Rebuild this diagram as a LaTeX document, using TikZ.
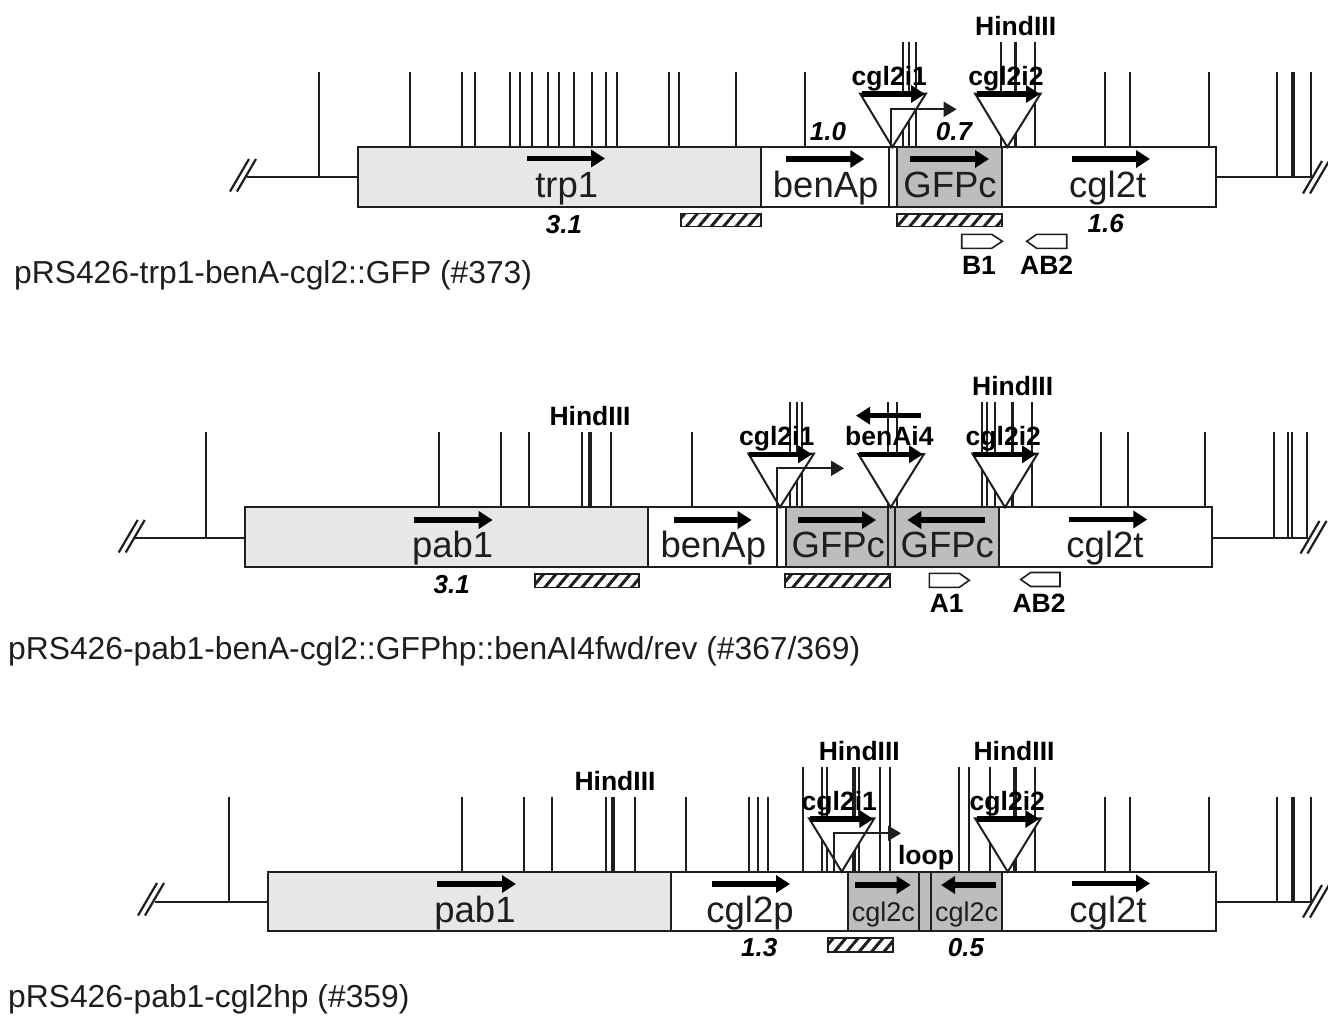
\documentclass[tikz,border=0pt]{standalone}
\usepackage{fontspec}
\setmainfont{Liberation Sans}
\usetikzlibrary{arrows.meta,patterns.meta}
\definecolor{ink}{HTML}{1E1E1E}
\definecolor{pale}{HTML}{E7E7E7}
\definecolor{mid}{HTML}{BDBDBD}
\tikzset{
  rule/.style={draw=ink,line width=1.8pt},
  heavy/.style={draw=ink,line width=3.4pt},
  seg/.style={draw=ink,line width=2pt},
  bigarrow/.style={draw=black,line width=5.2pt,-{Triangle[length=14pt,width=17pt]},shorten >=0pt},
  bent/.style={draw=ink,line width=2pt,-{Triangle[length=13pt,width=15pt]}},
  tri/.style={draw=ink,line width=2pt,fill=white,line join=miter},
  hatch/.style={draw=ink,line width=1.8pt,pattern={Lines[angle=50,distance=9.5pt,line width=3pt]},pattern color=ink},
  primer/.style={draw=ink,line width=1.6pt,fill=white},
  gene/.style={inner sep=0pt,anchor=base,text=ink,font=\fontsize{36.5}{40}\selectfont},
  small/.style={inner sep=0pt,anchor=base,text=ink,font=\fontsize{27}{30}\selectfont},
  tag/.style={inner sep=0pt,text=black,font=\fontsize{26.5}{30}\selectfont\bfseries},
  num/.style={inner sep=0pt,text=black,font=\fontsize{26}{30}\selectfont\bfseries\itshape},
  title/.style={inner sep=0pt,anchor=west,text=ink,font=\fontsize{31.8}{35}\selectfont},
}
\newcommand{\Ticks}[4][rule]{\foreach \t in {#4}{\draw[#1] (\t,#2) -- (\t,#3);}}
\newcommand{\Slash}[2]{%
  \draw[draw=ink,line width=2.2pt] (#1,#2+15.5) -- (#1+19,#2-17);
  \draw[draw=ink,line width=2.2pt] (#1+7,#2+15.5) -- (#1+26,#2-17);}
\begin{document}
\begin{tikzpicture}[x=1pt,y=-1pt]
\useasboundingbox (0,0) rectangle (1328,1015);

% ---------- row 1 ----------
\draw[seg] (247,177.3) -- (358,177.3);
\draw[seg] (1216,177.3) -- (1311,177.3);
\Slash{230}{176}
\Slash{1303}{178}
\Ticks{72}{177.3}{319,1276.7,1291.7,1294.3,1310.7}
\Ticks{72}{147}{410,462,474.7,510,519.7,531.7,548,559.3,573.7,591.7,606,617.3,669,679,736.3,805.3,1104.7,1130.3,1208.7}
\Ticks{41.5}{147}{902.7,909.3,915.7,1000.7,1035}
\Ticks[heavy]{41.5}{147}{1015.7}
\draw[seg,fill=pale] (358,147) rectangle (761,207);
\draw[seg,fill=white] (761,147) rectangle (1216,207);
\draw[seg] (889.3,147) -- (889.3,207);
\draw[seg,fill=mid] (897.3,147) rectangle (1001.7,207);
\draw[tri] (860,93.5) -- (926,93.5) -- (892.3,147) -- cycle;
\draw[tri] (975,93.5) -- (1040.7,93.5) -- (1007.3,147) -- cycle;
\draw[bent] (890.7,147) -- (890.7,109.3) -- (956.7,109.3);
\draw[bigarrow] (862,94) -- (925,94);
\draw[bigarrow] (977,94) -- (1040,94);
\draw[bigarrow] (527,158.5) -- (605,158.5);
\draw[bigarrow] (786,159) -- (864.3,159);
\draw[bigarrow] (910,159) -- (989,159);
\draw[bigarrow] (1071.7,159) -- (1150,159);
\draw[hatch] (681,213.5) rectangle (760.7,226.5);
\draw[hatch] (897.3,214) rectangle (1001.7,226.5);
\draw[primer] (961.7,234.3) -- (991.7,234.3) -- (1002.3,241.3) -- (991.7,248.3) -- (961.7,248.3) -- cycle;
\draw[primer] (1066.7,234.3) -- (1036.7,234.3) -- (1026.7,241.3) -- (1036.7,248.3) -- (1066.7,248.3) -- cycle;
\node[gene] (r1trp) at (566.7,197.5) {trp1};
\node[gene] (r1ben) at (825.7,197.5) {benAp};
\node[gene] (r1gfp) at (950,197.5) {GFPc};
\node[gene] (r1t) at (1107.7,197.5) {cgl2t};
\node[tag] (r1i1) at (889.3,79) {cgl2i1};
\node[tag] (r1i2) at (1006,79) {cgl2i2};
\node[tag] (r1h) at (1015.7,26) {HindIII};
\node[tag] (r1b1) at (979,265) {B1};
\node[tag] (r1ab2) at (1046.7,265) {AB2};
\node[num] (r1n1) at (828,131.7) {1.0};
\node[num] (r1n2) at (954,131.7) {0.7};
\node[num] (r1n3) at (564,225) {3.1};
\node[num] (r1n4) at (1105.7,224) {1.6};
\node[title] (r1title) at (14,275) {pRS426-trp1-benA-cgl2::GFP (\#373)};

% ---------- row 2 ----------
\draw[seg] (135,538.3) -- (245,538.3);
\draw[seg] (1212.3,538.3) -- (1308,538.3);
\Slash{118.7}{537}
\Slash{1300.5}{538}
\Ticks{432.3}{538.3}{206,1274.3,1288.3,1292.3,1307.3}
\Ticks{432.3}{507.3}{439.3,501,529,582.3,611.3,691.7,1101.3,1127.7,1205}
\Ticks[heavy]{432.3}{507.3}{590}
\Ticks{402.3}{507.3}{790,796.7,802.3,887.7,896.7,981.7,986.7,995,1031.7}
\Ticks[heavy]{402.3}{507.3}{1012.7}
\draw[seg,fill=pale] (245,507.3) rectangle (648.3,566.7);
\draw[seg,fill=white] (648.3,507.3) rectangle (1212.3,566.7);
\draw[seg] (777.3,507.3) -- (777.3,566.7);
\draw[seg,fill=mid] (785.7,507.3) rectangle (888.3,566.7);
\draw[seg,fill=mid] (888.3,507.3) rectangle (895,566.7);
\draw[seg,fill=mid] (895,507.3) rectangle (999,566.7);
\draw[tri] (748.3,453.5) -- (814,453.5) -- (780,507.3) -- cycle;
\draw[tri] (858.3,454) -- (924,454) -- (890.7,507.3) -- cycle;
\draw[tri] (972.3,453.5) -- (1037.7,453.5) -- (1005,507.3) -- cycle;
\draw[bent] (777.3,507.3) -- (777.3,468.3) -- (844,468.3);
\draw[bigarrow] (749,454.3) -- (812,454.3);
\draw[bigarrow] (859,454.3) -- (923,454.3);
\draw[bigarrow] (973,454.3) -- (1036,454.3);
\draw[bigarrow] (920.7,415.7) -- (856,415.7);
\draw[bigarrow] (414.3,520) -- (492.7,520);
\draw[bigarrow] (674,520) -- (751.7,520);
\draw[bigarrow] (798.3,520) -- (876,520);
\draw[bigarrow] (985,520) -- (907.3,520);
\draw[bigarrow] (1069,519.5) -- (1147.3,519.5);
\draw[hatch] (535,573.7) rectangle (639.3,587.5);
\draw[hatch] (785,573.7) rectangle (890,587.5);
\draw[primer] (929.3,573.3) -- (959.3,573.3) -- (969.3,580.3) -- (959.3,587.3) -- (929.3,587.3) -- cycle;
\draw[primer] (1060,572.5) -- (1030.7,572.5) -- (1020.7,579.5) -- (1030.7,586.5) -- (1060,586.5) -- cycle;
\node[gene] (r2pab) at (452.7,557.5) {pab1};
\node[gene] (r2ben) at (713.3,557.5) {benAp};
\node[gene] (r2gfp) at (838.3,557.5) {GFPc};
\node[gene] (r2gfq) at (947.3,557.5) {GFPc};
\node[gene] (r2t) at (1105,557.5) {cgl2t};
\node[tag] (r2i1) at (776.7,438.5) {cgl2i1};
\node[tag] (r2i4) at (889.3,435.7) {benAi4};
\node[tag] (r2i2) at (1003.3,438.5) {cgl2i2};
\node[tag] (r2h1) at (590,416) {HindIII};
\node[tag] (r2h2) at (1012.7,385.7) {HindIII};
\node[tag] (r2a1) at (946.7,603.3) {A1};
\node[tag] (r2ab2) at (1039,603.3) {AB2};
\node[num] (r2n) at (451.7,585) {3.1};
\node[title] (r2title) at (8,651) {pRS426-pab1-benA-cgl2::GFPhp::benAI4fwd/rev (\#367/369)};

% ---------- row 3 ----------
\draw[seg] (155,901.5) -- (268,901.5);
\draw[seg] (1215.5,901.5) -- (1311,901.5);
\Slash{138}{900}
\Slash{1303}{902}
\Ticks{797}{901.5}{229,1276.7,1291.7,1294.3,1311}
\Ticks{797}{871.7}{462.3,524,552,605.7,634.7,686.3,749.3,758.3,768,1104.7,1130.3,1208.7}
\Ticks[heavy]{797}{871.7}{613}
\Ticks{767.3}{871.7}{803.3,822.3,826.7,859.3,880,890,959.3,969.3,990,1035}
\Ticks[heavy]{767.3}{871.7}{854,1015}
\draw[seg,fill=pale] (268,871.7) rectangle (670.7,931);
\draw[seg,fill=white] (670.7,871.7) rectangle (1215.5,931);
\draw[seg,fill=mid] (848.3,871.7) rectangle (919.3,931);
\draw[seg,fill=mid] (919.3,871.7) rectangle (930.7,931);
\draw[seg,fill=mid] (930.7,871.7) rectangle (1002.3,931);
\draw[tri] (809,818.3) -- (874.3,818.3) -- (841.7,871.7) -- cycle;
\draw[tri] (975,818.3) -- (1040.7,818.3) -- (1007.7,871.7) -- cycle;
\draw[bent] (834.3,871.7) -- (834.3,833.3) -- (901,833.3);
\draw[bigarrow] (810,819) -- (873.3,819);
\draw[bigarrow] (976.7,819) -- (1039.3,819);
\draw[bigarrow] (437.3,884) -- (516,884);
\draw[bigarrow] (712,884) -- (790,884);
\draw[bigarrow] (855,885) -- (910.7,885);
\draw[bigarrow] (996,885) -- (941,885);
\draw[bigarrow] (1071.7,883.5) -- (1150,883.5);
\draw[hatch] (828.3,937.7) rectangle (893.3,951.7);
\node[gene] (r3pab) at (475,922) {pab1};
\node[gene] (r3p) at (750,922) {cgl2p};
\node[small] (r3c1) at (883.3,921) {cgl2c};
\node[small] (r3c2) at (966.7,921) {cgl2c};
\node[gene] (r3t) at (1108,922) {cgl2t};
\node[tag] (r3i1) at (839.3,804) {cgl2i1};
\node[tag] (r3i2) at (1007.3,804) {cgl2i2};
\node[tag] (r3h1) at (615,780.7) {HindIII};
\node[tag] (r3h2) at (859.3,750.7) {HindIII};
\node[tag] (r3h3) at (1014,750.7) {HindIII};
\node[tag] (r3loop) at (926,858) {loop};
\node[num] (r3n1) at (759.3,948) {1.3};
\node[num] (r3n2) at (966,948) {0.5};
\node[title] (r3title) at (8,999.5) {pRS426-pab1-cgl2hp (\#359)};
\end{tikzpicture}
\end{document}
